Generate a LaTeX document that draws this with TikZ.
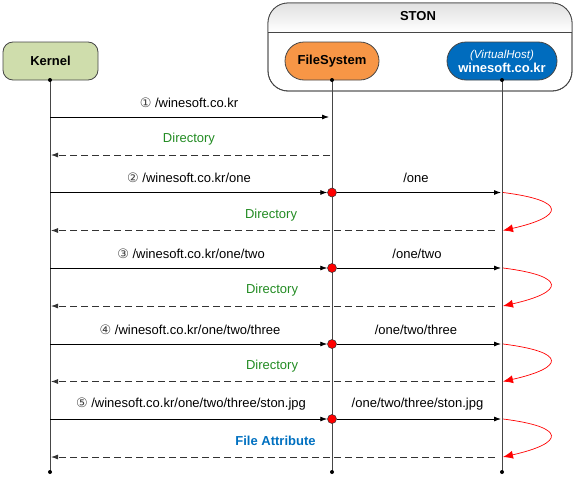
\documentclass[tikz,border=0pt]{standalone}
\usepackage{fontspec}
\setmainfont{Liberation Sans}
\newfontfamily\circfont{DejaVu Sans}
\usetikzlibrary{arrows.meta}
\definecolor{kgreen}{RGB}{207,221,172}
\definecolor{forange}{RGB}{247,150,70}
\definecolor{vblue}{RGB}{0,108,190}
\definecolor{dgreen}{RGB}{34,139,34}
\definecolor{fablue}{RGB}{0,112,192}
\definecolor{linegray}{RGB}{70,70,70}
\tikzset{
  actor/.style={draw=linegray, line width=0.8pt, minimum height=38, font=\fontsize{13}{14}\selectfont\bfseries, align=center, inner sep=0pt},
  life/.style={draw=linegray, line width=0.9pt},
  msg/.style={draw=black, line width=0.8pt, -{Latex[length=7pt,width=5pt]}},
  ret/.style={draw=black!80, line width=0.8pt, dash pattern=on 7pt off 4pt, -{Latex[length=7pt,width=5pt]}},
  loopback/.style={draw=red, line width=0.7pt, -{Latex[length=10pt,width=8pt]}},
  lbl/.style={font=\fontsize{13}{14}\selectfont, inner sep=0pt},
  dirlbl/.style={lbl, text=dgreen},
  dot/.style={circle, fill=black, inner sep=0pt, minimum size=4pt},
  rdot/.style={circle, fill=red, draw=black!80, line width=0.5pt, inner sep=0pt, minimum size=9pt}
}
\newcommand{\cnum}[1]{{\circfont\fontsize{13}{14}\selectfont\color{black!75}#1}}
\begin{document}
\begin{tikzpicture}[x=1pt,y=-1pt]
\useasboundingbox (0,0) rectangle (575,482);
% STON container
\node[draw=linegray, line width=0.8pt, rounded corners=20pt, minimum width=304, minimum height=88, inner sep=0pt, fill=white] (ston) at (420,47) {};
\begin{scope}
  \clip[rounded corners=20pt] (268,3) rectangle (572,91);
  \shade[top color=black!12, bottom color=white] (268,3) rectangle (572,32);
\end{scope}
\node[draw=linegray, line width=0.8pt, rounded corners=20pt, minimum width=304, minimum height=88, inner sep=0pt] at (420,47) {};
\draw[draw=linegray, line width=0.8pt] (268,32) -- (572,32);
\node[font=\fontsize{13}{14}\selectfont\bfseries] (stonlbl) at (418,16.5) {STON};
% actors
\node[actor, fill=kgreen, minimum width=95, rounded corners=10pt] (kernel) at (50.5,61) {Kernel};
\node[actor, fill=forange, minimum width=94, rounded corners=19pt] (fs) at (332,61) {FileSystem};
\node[actor, fill=vblue, minimum width=110, rounded corners=19pt, text=white] (vh) at (502,61) {{\fontsize{11.5}{12}\selectfont\mdseries\itshape (VirtualHost)}\\[0pt]winesoft.co.kr};
% lifeline ends
\coordinate (kend) at (50,472);
\coordinate (fend) at (332,472);
\coordinate (vend) at (502,472);
\draw[life] (50,80) -- (kend);
\draw[life] (332,80) -- (fend);
\draw[life] (502,80) -- (vend);
\node[dot] at (50,80) {};
\node[dot] at (332,80) {};
\node[dot] at (502,80) {};
\node[dot] at (kend) {};
\node[dot] at (fend) {};
\node[dot] at (vend) {};
% message 1
\coordinate (k1) at (50,117); \coordinate (f1) at (329,117);
\draw[msg] (k1) -- (f1);
\node[lbl] (l1) at (189,102.5) {\cnum{①} /winesoft.co.kr};
\coordinate (f1r) at (330,155); \coordinate (k1r) at (51,155);
\draw[ret] (f1r) -- (k1r);
\node[dirlbl] (d1) at (189,139.5) {Directory};
% messages 2-5
\foreach \y/\ry/\n/\ll/\lx/\rl/\rlx [count=\i] in {
  192.5/230.5/②/{/winesoft.co.kr/one}/189/{/one}/416,
  268/306/③/{/winesoft.co.kr/one/two}/191/{/one/two}/417,
  344/381.5/④/{/winesoft.co.kr/one/two/three}/190/{/one/two/three}/416,
  419/457/⑤/{/winesoft.co.kr/one/two/three/ston.jpg}/191/{/one/two/three/ston.jpg}/417.5}{
  \coordinate (k\i) at (50,\y);
  \coordinate (v\i) at (501,\y);
  \node[rdot] (r\i) at (332,\y) {};
  \draw[msg] (k\i) -- (r\i);
  \draw[msg] (r\i) -- (v\i);
  \node[lbl] (ml\i) at (\lx,\y-14.5) {\cnum{\n} \ll};
  \node[lbl] (mr\i) at (\rlx,\y-14.5) {\rl};
  \coordinate (vs\i) at (503,\y);
  \coordinate (ve\i) at (503,\ry);
  \draw[loopback] (vs\i) .. controls (567,\y+8) and (565,\ry-14) .. (ve\i);
  \coordinate (vr\i) at (495,\ry);
  \coordinate (kr\i) at (51,\ry);
  \draw[ret] (vr\i) -- (kr\i);
}
\node[dirlbl] (d2) at (271,215) {Directory};
\node[dirlbl] (d3) at (272,290.5) {Directory};
\node[dirlbl] (d4) at (272,366) {Directory};
\node[lbl, font=\fontsize{13}{14}\selectfont\bfseries, text=fablue] (fa) at (275.5,441) {File Attribute};
\end{tikzpicture}
\end{document}
